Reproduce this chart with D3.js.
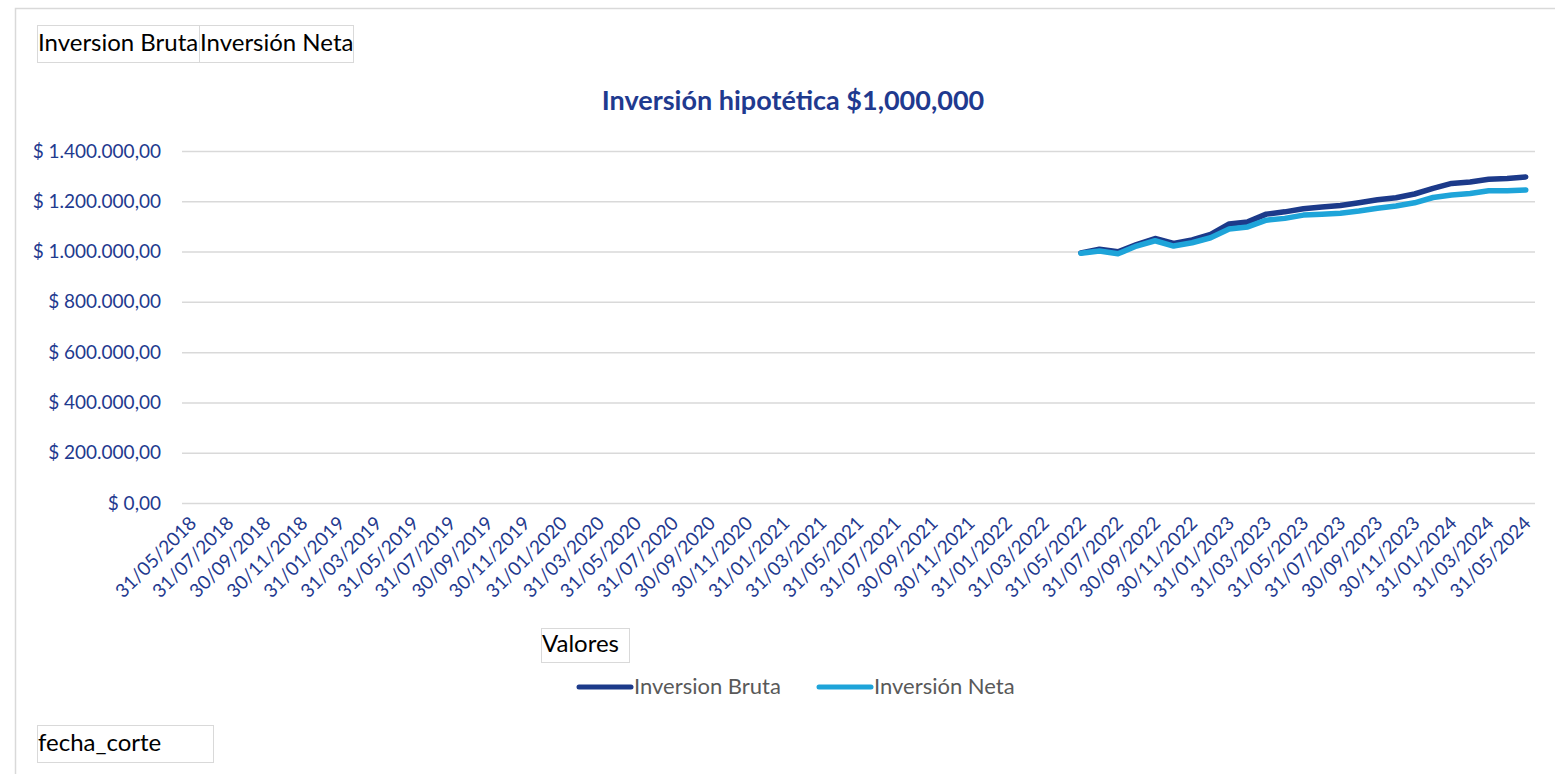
<!DOCTYPE html>
<html>
<head>
<meta charset="utf-8">
<script src="https://cdn.jsdelivr.net/npm/d3@7"></script>
<style>
  html, body { margin: 0; padding: 0; background: #fff; }
  svg { display: block; }
</style>
</head>
<body>
<svg id="chart" width="1555" height="774"></svg>
<script>
// ---- Data ----
const categories = [
  "31/05/2018","30/06/2018","31/07/2018","31/08/2018","30/09/2018","31/10/2018","30/11/2018","31/12/2018",
  "31/01/2019","28/02/2019","31/03/2019","30/04/2019","31/05/2019","30/06/2019","31/07/2019","31/08/2019","30/09/2019","31/10/2019","30/11/2019","31/12/2019",
  "31/01/2020","29/02/2020","31/03/2020","30/04/2020","31/05/2020","30/06/2020","31/07/2020","31/08/2020","30/09/2020","31/10/2020","30/11/2020","31/12/2020",
  "31/01/2021","28/02/2021","31/03/2021","30/04/2021","31/05/2021","30/06/2021","31/07/2021","31/08/2021","30/09/2021","31/10/2021","30/11/2021","31/12/2021",
  "31/01/2022","28/02/2022","31/03/2022","30/04/2022","31/05/2022","30/06/2022","31/07/2022","31/08/2022","30/09/2022","31/10/2022","30/11/2022","31/12/2022",
  "31/01/2023","28/02/2023","31/03/2023","30/04/2023","31/05/2023","30/06/2023","31/07/2023","31/08/2023","30/09/2023","31/10/2023","30/11/2023","31/12/2023",
  "31/01/2024","29/02/2024","31/03/2024","30/04/2024","31/05/2024"
];
// values exist from 31/05/2022 onwards (earlier months empty)
const brutaDates = categories.slice(48);
const brutaValues = [995000,1009000,999000,1028000,1052000,1032000,1046000,1068000,1110000,1118000,1149000,1158000,1170000,1177000,1183000,1194000,1206000,1214000,1229000,1251000,1271000,1277000,1288000,1291000,1297000];
const netaValues  = [993000,1002000,991000,1022000,1043000,1022000,1035000,1055000,1090000,1098000,1125000,1132000,1145000,1148000,1152000,1161000,1172000,1181000,1194000,1215000,1225000,1231000,1242000,1242000,1245000];
const yTicks = [0,200000,400000,600000,800000,1000000,1200000,1400000];
const seriesNames = ["Inversion Bruta","Inversión Neta"];
const seriesColors = ["#1C3A8A","#1EA4D9"];
const title = "Inversión hipotética $1,000,000";

// ---- Layout ----
const svg = d3.select("#chart");
const FONT = "Lato, 'Open Sans', sans-serif";
const plot = {left: 182, right: 1535, top: 151, bottom: 503};

const x = d3.scaleBand().domain(categories).range([plot.left, plot.right]);
const y = d3.scaleLinear().domain([0,1400000]).range([plot.bottom, plot.top]);

// chart area border
svg.append("path").attr("d","M15.5,774 L15.5,8.5 L1555,8.5")
  .attr("fill","none").attr("stroke","#d9d9d9").attr("stroke-width",1.5);

// pivot field buttons
function fieldButton(x0, y0, w, h, label) {
  svg.append("rect").attr("x",x0+0.5).attr("y",y0+0.5).attr("width",w).attr("height",h)
    .attr("fill","#fff").attr("stroke","#d9d9d9").attr("stroke-width",1);
  svg.append("text").attr("x",x0+1).attr("y",y0+h/2+1).attr("dominant-baseline","middle")
    .attr("font-family",FONT).attr("font-size",24).attr("fill","#000").text(label);
}
fieldButton(37,25,162,37,seriesNames[0]);
fieldButton(199,25,154,37,seriesNames[1]);
fieldButton(541,628,88,34,"Valores");
fieldButton(37,725,176,37,"fecha_corte");

// title
svg.append("text").attr("x",793).attr("y",103).attr("text-anchor","middle").attr("dominant-baseline","middle")
  .attr("font-family",FONT).attr("font-size",27).attr("font-weight","bold").attr("fill","#1F3A8F").text(title);

// gridlines + y axis
const yAxis = d3.axisLeft(y).tickValues(yTicks).tickSize(-(plot.right-plot.left)).tickPadding(21)
  .tickFormat(v => "$ " + d3.format(",.2f")(v).replace(/,/g,"#").replace(/\./g,",").replace(/#/g,"."));
const yg = svg.append("g").attr("transform",`translate(${plot.left},0)`).call(yAxis);
yg.select(".domain").remove();
yg.selectAll(".tick line").attr("stroke","#d9d9d9").attr("stroke-width",1.5);
yg.selectAll(".tick text").attr("font-family",FONT).attr("font-size",19).attr("fill","#1F3A8F");

// x axis labels (every 2nd category)
const xAxis = d3.axisBottom(x).tickValues(categories.filter((d,i)=>i%2===0)).tickSize(0).tickPadding(0);
const xg = svg.append("g").attr("transform",`translate(0,${plot.bottom})`).call(xAxis);
xg.select(".domain").remove();
xg.selectAll(".tick text")
  .attr("font-family",FONT).attr("font-size",19).attr("fill","#1F3A8F")
  .attr("text-anchor","end").attr("dy",null).attr("y",null)
  .attr("transform","translate(3,18) rotate(-45)")
  .attr("dominant-baseline","middle");

// lines
const line = d3.line().x((d,i)=>x(brutaDates[i])+x.bandwidth()/2).y(d=>y(d));
[brutaValues, netaValues].forEach((vals, k) => {
  svg.append("path").datum(vals).attr("d", line)
    .attr("fill","none").attr("stroke",seriesColors[k]).attr("stroke-width",5.5)
    .attr("stroke-linejoin","round").attr("stroke-linecap","round");
});

// legend
const legendItems = [{x:577, label: seriesNames[0], c: seriesColors[0]}, {x:817, label: seriesNames[1], c: seriesColors[1]}];
legendItems.forEach(it => {
  svg.append("line").attr("x1",it.x+2).attr("x2",it.x+54).attr("y1",687).attr("y2",687)
    .attr("stroke",it.c).attr("stroke-width",5).attr("stroke-linecap","round");
  svg.append("text").attr("x",it.x+57).attr("y",688).attr("dominant-baseline","middle")
    .attr("font-family",FONT).attr("font-size",22).attr("fill","#595959").text(it.label);
});
</script>
</body>
</html>
